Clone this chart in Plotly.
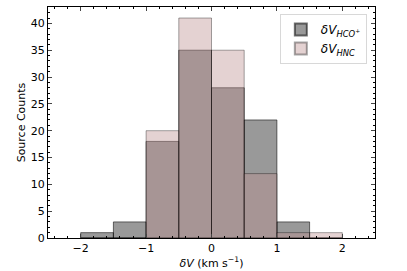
import plotly.graph_objects as go

bin_left = [-2.0, -1.5, -1.0, -0.5, 0.0, 0.5, 1.0, 1.5]
bin_width = 0.5
counts_hco = [1, 3, 18, 35, 28, 22, 3, 0]
counts_hnc = [0, 0, 20, 41, 35, 12, 1, 1]
x_ticks = [-2, -1, 0, 1, 2]
y_ticks = [0, 5, 10, 15, 20, 25, 30, 35, 40]

centers = [b + bin_width / 2 for b in bin_left]

fig = go.Figure()
fig.add_trace(go.Bar(
    x=centers, y=counts_hco, width=bin_width,
    marker=dict(color="rgba(0,0,0,0.4)", line=dict(color="rgba(0,0,0,0.55)", width=1)),
    name="<i>δV<sub>HCO<sup>+</sup></sub></i>",
))
fig.add_trace(go.Bar(
    x=centers, y=counts_hnc, width=bin_width,
    marker=dict(color="rgba(188,143,143,0.4)", line=dict(color="rgba(0,0,0,0.35)", width=1)),
    name="<i>δV<sub>HNC</sub></i>",
))

font = dict(family="DejaVu Sans", size=11, color="black")
fig.update_layout(
    width=407, height=271,
    margin=dict(l=48, r=32, t=7, b=33),
    barmode="overlay",
    plot_bgcolor="white", paper_bgcolor="white",
    font=font,
    showlegend=True,
    legend=dict(x=0.975, y=0.97, xanchor="right", yanchor="top",
                bgcolor="rgba(255,255,255,0.8)", bordercolor="#d8d8d8", borderwidth=1,
                font=dict(family="DejaVu Sans", size=12), itemsizing="constant",
                traceorder="normal", tracegroupgap=2),
    xaxis=dict(range=[-2.5, 2.5], tickvals=x_ticks, ticks="inside", ticklen=4,
               showline=True, linecolor="black", linewidth=1, mirror="allticks",
               showgrid=False, zeroline=False, automargin=False,
               minor=dict(ticks="inside", dtick=0.2, ticklen=2, tickcolor="black"),
               title=dict(text="<i>δV</i> (km s<sup>−1</sup>)", standoff=2, font=dict(size=11))),
    yaxis=dict(range=[0, 43.05], tickvals=y_ticks, ticks="inside", ticklen=4,
               showline=True, linecolor="black", linewidth=1, mirror="allticks",
               showgrid=False, zeroline=False, automargin=False,
               minor=dict(ticks="inside", dtick=1, ticklen=2, tickcolor="black"),
               title=dict(text="Source Counts", standoff=2, font=dict(size=11))),
)
fig.write_html("out.html", config={"displayModeBar": False},
               post_script="document.body.style.margin='0';document.body.style.padding='0';")
